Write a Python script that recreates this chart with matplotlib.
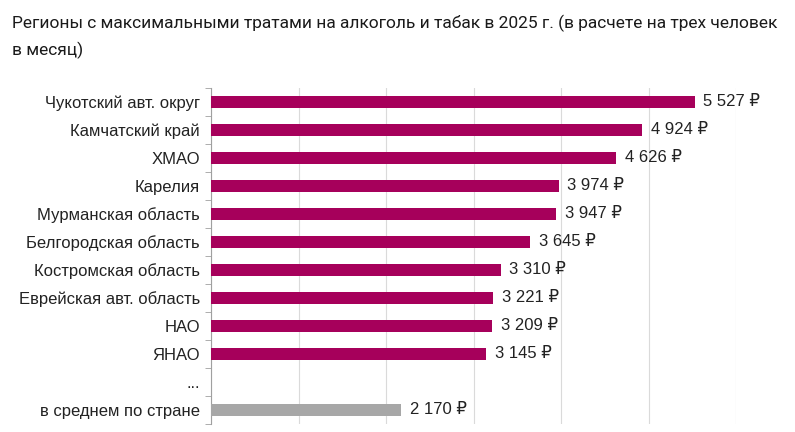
import numpy as np
import matplotlib
matplotlib.use('Agg')
import matplotlib.pyplot as plt

# Data
regions = ['Чукотский авт. округ', 'Камчатский край', 'ХМАО', 'Карелия',
           'Мурманская область', 'Белгородская область', 'Костромская область',
           'Еврейская авт. область', 'НАО', 'ЯНАО', '...', 'в среднем по стране']
spending = [5527, 4924, 4626, 3974, 3947, 3645, 3310, 3221, 3209, 3145, None, 2170]

title = ('Регионы с максимальными тратами на алкоголь и табак в 2025 г. (в расчете на трех человек\n'
         'в месяц)')

plt.rcParams['font.family'] = ['Liberation Sans', 'DejaVu Sans']

fig = plt.figure(figsize=(7.95, 4.32), dpi=100)
ax = fig.add_axes([211/795, 1 - 424/432, (736-211)/795, (424-88)/432])

y = np.arange(len(regions))
for i in range(len(regions)):
    if spending[i] is None:
        continue
    colour = '#A7A7A7' if i == len(regions) - 1 else '#A6005B'
    ax.barh(y[i], spending[i], height=0.42, color=colour, zorder=3)
    label = f'{spending[i]:,}'.replace(',', ' ') + ' ₽'
    ax.text(spending[i] + 100, y[i], label, va='center', ha='left',
            fontsize=12, color='#222222')

ax.set_xlim(0, 6000)
ax.set_ylim(len(regions) - 0.5, -0.5)
ax.set_xticks(np.arange(0, 6001, 1000))
ax.set_xticklabels([])
ax.tick_params(axis='x', length=0)
ax.grid(axis='x', color='#DADADA', linewidth=0.8, zorder=0)

ax.set_yticks(y)
ax.set_yticklabels(regions, fontsize=12, color='#222222')
ax.tick_params(axis='y', length=0, pad=8)
ax.set_yticks(np.arange(-0.5, len(regions), 1), minor=True)
ax.tick_params(axis='y', which='minor', length=4, color='#A0A0A0')

for s in ['top', 'right', 'bottom']:
    ax.spines[s].set_visible(False)
ax.spines['left'].set_color('#A0A0A0')

fig.text(12/795, 1 - 15/432, title, ha='left', va='top', fontsize=12.5,
         family=['Roboto', 'DejaVu Sans'], color='#1a1a1a', linespacing=1.7)

fig.savefig('out.png', dpi=100)
